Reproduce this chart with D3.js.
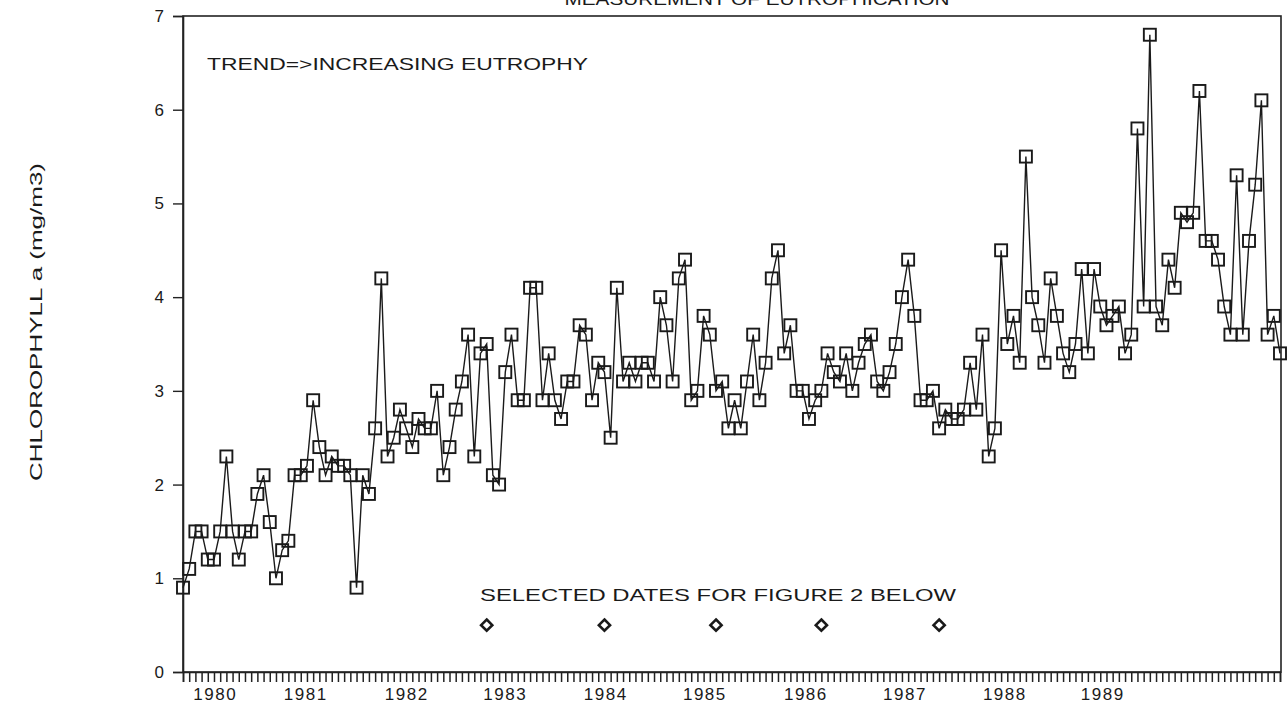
<!DOCTYPE html>
<html>
<head>
<meta charset="utf-8">
<script src="https://cdn.jsdelivr.net/npm/d3@7"></script>
<style>
  body { margin: 0; background: #fff; }
  text { font-family: "Liberation Sans", "DejaVu Sans", sans-serif; fill: #1a1a1a; }
</style>
</head>
<body>
<div id="chart"></div>
<script>
// chlorophyll a samples, one per sampling date (equally spaced on the axis)
var chl = [0.9,1.1,1.5,1.5,1.2,1.2,1.5,2.3,1.5,1.2,1.5,1.5,1.9,2.1,1.6,1.0,1.3,1.4,2.1,2.1,
  2.2,2.9,2.4,2.1,2.3,2.2,2.2,2.1,0.9,2.1,1.9,2.6,4.2,
  2.3,2.5,2.8,2.6,2.4,2.7,2.6,2.6,3.0,2.1,2.4,2.8,3.1,3.6,2.3,3.4,3.5,2.1,2.0,3.2,3.6,2.9,
  2.9,4.1,4.1,2.9,3.4,2.9,2.7,3.1,3.1,3.7,3.6,2.9,3.3,3.2,2.5,4.1,3.1,3.3,3.1,3.3,3.3,3.1,
  4.0,3.7,3.1,4.2,4.4,2.9,3.0,3.8,3.6,3.0,3.1,2.6,2.9,2.6,3.1,3.6,2.9,3.3,4.2,4.5,3.4,3.7,
  3.0,3.0,2.7,2.9,3.0,3.4,3.2,3.1,3.4,3.0,3.3,3.5,3.6,3.1,3.0,3.2,3.5,4.0,4.4,3.8,2.9,2.9,
  3.0,2.6,2.8,2.7,2.7,2.8,3.3,2.8,3.6,2.3,2.6,4.5,3.5,3.8,3.3,5.5,4.0,3.7,3.3,4.2,3.8,3.4,
  3.2,3.5,4.3,3.4,4.3,3.9,3.7,3.8,3.9,3.4,3.6,5.8,3.9,6.8,3.9,3.7,4.4,4.1,4.9,4.8,4.9,6.2,
  4.6,4.6,4.4,3.9,3.6,5.3,3.6,4.6,5.2,6.1,3.6,3.8,3.4];

// selected dates (sample index) shown as diamonds
var selIdx = [49, 68, 86, 103, 122];
var selVal = 0.5;

// year labels and where they sit on the sample axis
var years = ["1980","1981","1982","1983","1984","1985","1986","1987","1988","1989"];
var yearPos = [5.2, 19.8, 36.1, 52, 68.2, 84.2, 100.5, 116.5, 132.6, 148.4];

var yTicks = [0,1,2,3,4,5,6,7];

(function() {
  var width = 1287, height = 716;
  var mL = 183, mR = 1281, mT = 16, mB = 672;

  var svg = d3.select("#chart").append("svg")
      .attr("width", width)
      .attr("height", height);

  svg.append("rect").attr("width", width).attr("height", height).attr("fill", "#fff");

  var x = d3.scaleLinear().domain([0, chl.length - 1]).range([mL, mR - 1]);
  var y = d3.scaleLinear().domain([0, 7]).range([mB, mT]);

  // title, cut at the top edge as in the scan
  svg.append("text")
      .attr("x", 757).attr("y", 5)
      .attr("text-anchor", "middle")
      .attr("font-size", "17px")
      .attr("fill", "#555")
      .attr("textLength", 385).attr("lengthAdjust", "spacingAndGlyphs")
      .text("MEASUREMENT OF EUTROPHICATION");

  // frame
  svg.append("rect")
      .attr("x", mL).attr("y", mT)
      .attr("width", mR - mL).attr("height", mB - mT)
      .attr("fill", "none").attr("stroke", "#222").attr("stroke-width", 1.6);

  // y axis
  var yAxis = d3.axisLeft(y).tickValues(yTicks).tickFormat(d3.format("d"))
      .tickSize(10).tickPadding(9);
  var gy = svg.append("g").attr("transform", "translate(" + mL + ",0)").call(yAxis);
  gy.select(".domain").attr("stroke", "#222").attr("stroke-width", 1.6);
  gy.selectAll(".tick line").attr("stroke", "#222").attr("stroke-width", 1.4);
  gy.selectAll(".tick text").attr("font-size", "17px").attr("fill", "#1a1a1a")
      .style("font-family", "Liberation Sans, sans-serif");

  // x axis: one tick per sample, year labels placed separately
  var xAxis = d3.axisBottom(x).tickValues(d3.range(chl.length)).tickSize(10).tickFormat("");
  var gx = svg.append("g").attr("transform", "translate(0," + mB + ")").call(xAxis);
  gx.select(".domain").attr("stroke", "#222").attr("stroke-width", 1.6);
  gx.selectAll(".tick line").attr("stroke", "#222").attr("stroke-width", 1.5);

  svg.selectAll(".year")
      .data(years)
      .enter().append("text")
      .attr("class", "year")
      .attr("x", function(d, i) { return x(yearPos[i]); })
      .attr("y", mB + 28)
      .attr("text-anchor", "middle")
      .attr("font-size", "17px")
      .attr("letter-spacing", "1.5px")
      .text(function(d) { return d; });

  // y axis title
  svg.append("text")
      .attr("transform", "translate(42,322) rotate(-90)")
      .attr("text-anchor", "middle")
      .attr("font-size", "17px")
      .attr("textLength", 318).attr("lengthAdjust", "spacingAndGlyphs")
      .text("CHLOROPHYLL a (mg/m3)");

  // annotations
  svg.append("text")
      .attr("x", 207).attr("y", 70)
      .attr("font-size", "17px")
      .attr("textLength", 381).attr("lengthAdjust", "spacingAndGlyphs")
      .text("TREND=>INCREASING EUTROPHY");

  svg.append("text")
      .attr("x", 480).attr("y", 601)
      .attr("font-size", "17px")
      .attr("textLength", 476).attr("lengthAdjust", "spacingAndGlyphs")
      .text("SELECTED DATES FOR FIGURE 2 BELOW");

  // series line
  var line = d3.line()
      .x(function(d, i) { return x(i); })
      .y(function(d) { return y(d); });

  svg.append("path")
      .datum(chl)
      .attr("d", line)
      .attr("fill", "none")
      .attr("stroke", "#1a1a1a")
      .attr("stroke-width", 1.4);

  // square markers
  var s = 12;
  svg.selectAll(".pt")
      .data(chl)
      .enter().append("rect")
      .attr("class", "pt")
      .attr("x", function(d, i) { return x(i) - s / 2; })
      .attr("y", function(d) { return y(d) - s / 2; })
      .attr("width", s).attr("height", s)
      .attr("fill", "none")
      .attr("stroke", "#1a1a1a")
      .attr("stroke-width", 1.9);

  // diamonds for selected dates
  var diamond = d3.symbol().type(d3.symbolDiamond2).size(80);
  svg.selectAll(".sel")
      .data(selIdx)
      .enter().append("path")
      .attr("class", "sel")
      .attr("d", diamond)
      .attr("transform", function(d) { return "translate(" + x(d) + "," + y(selVal) + ")"; })
      .attr("fill", "#fff")
      .attr("stroke", "#1a1a1a")
      .attr("stroke-width", 2.6);
})();
</script>
</body>
</html>
